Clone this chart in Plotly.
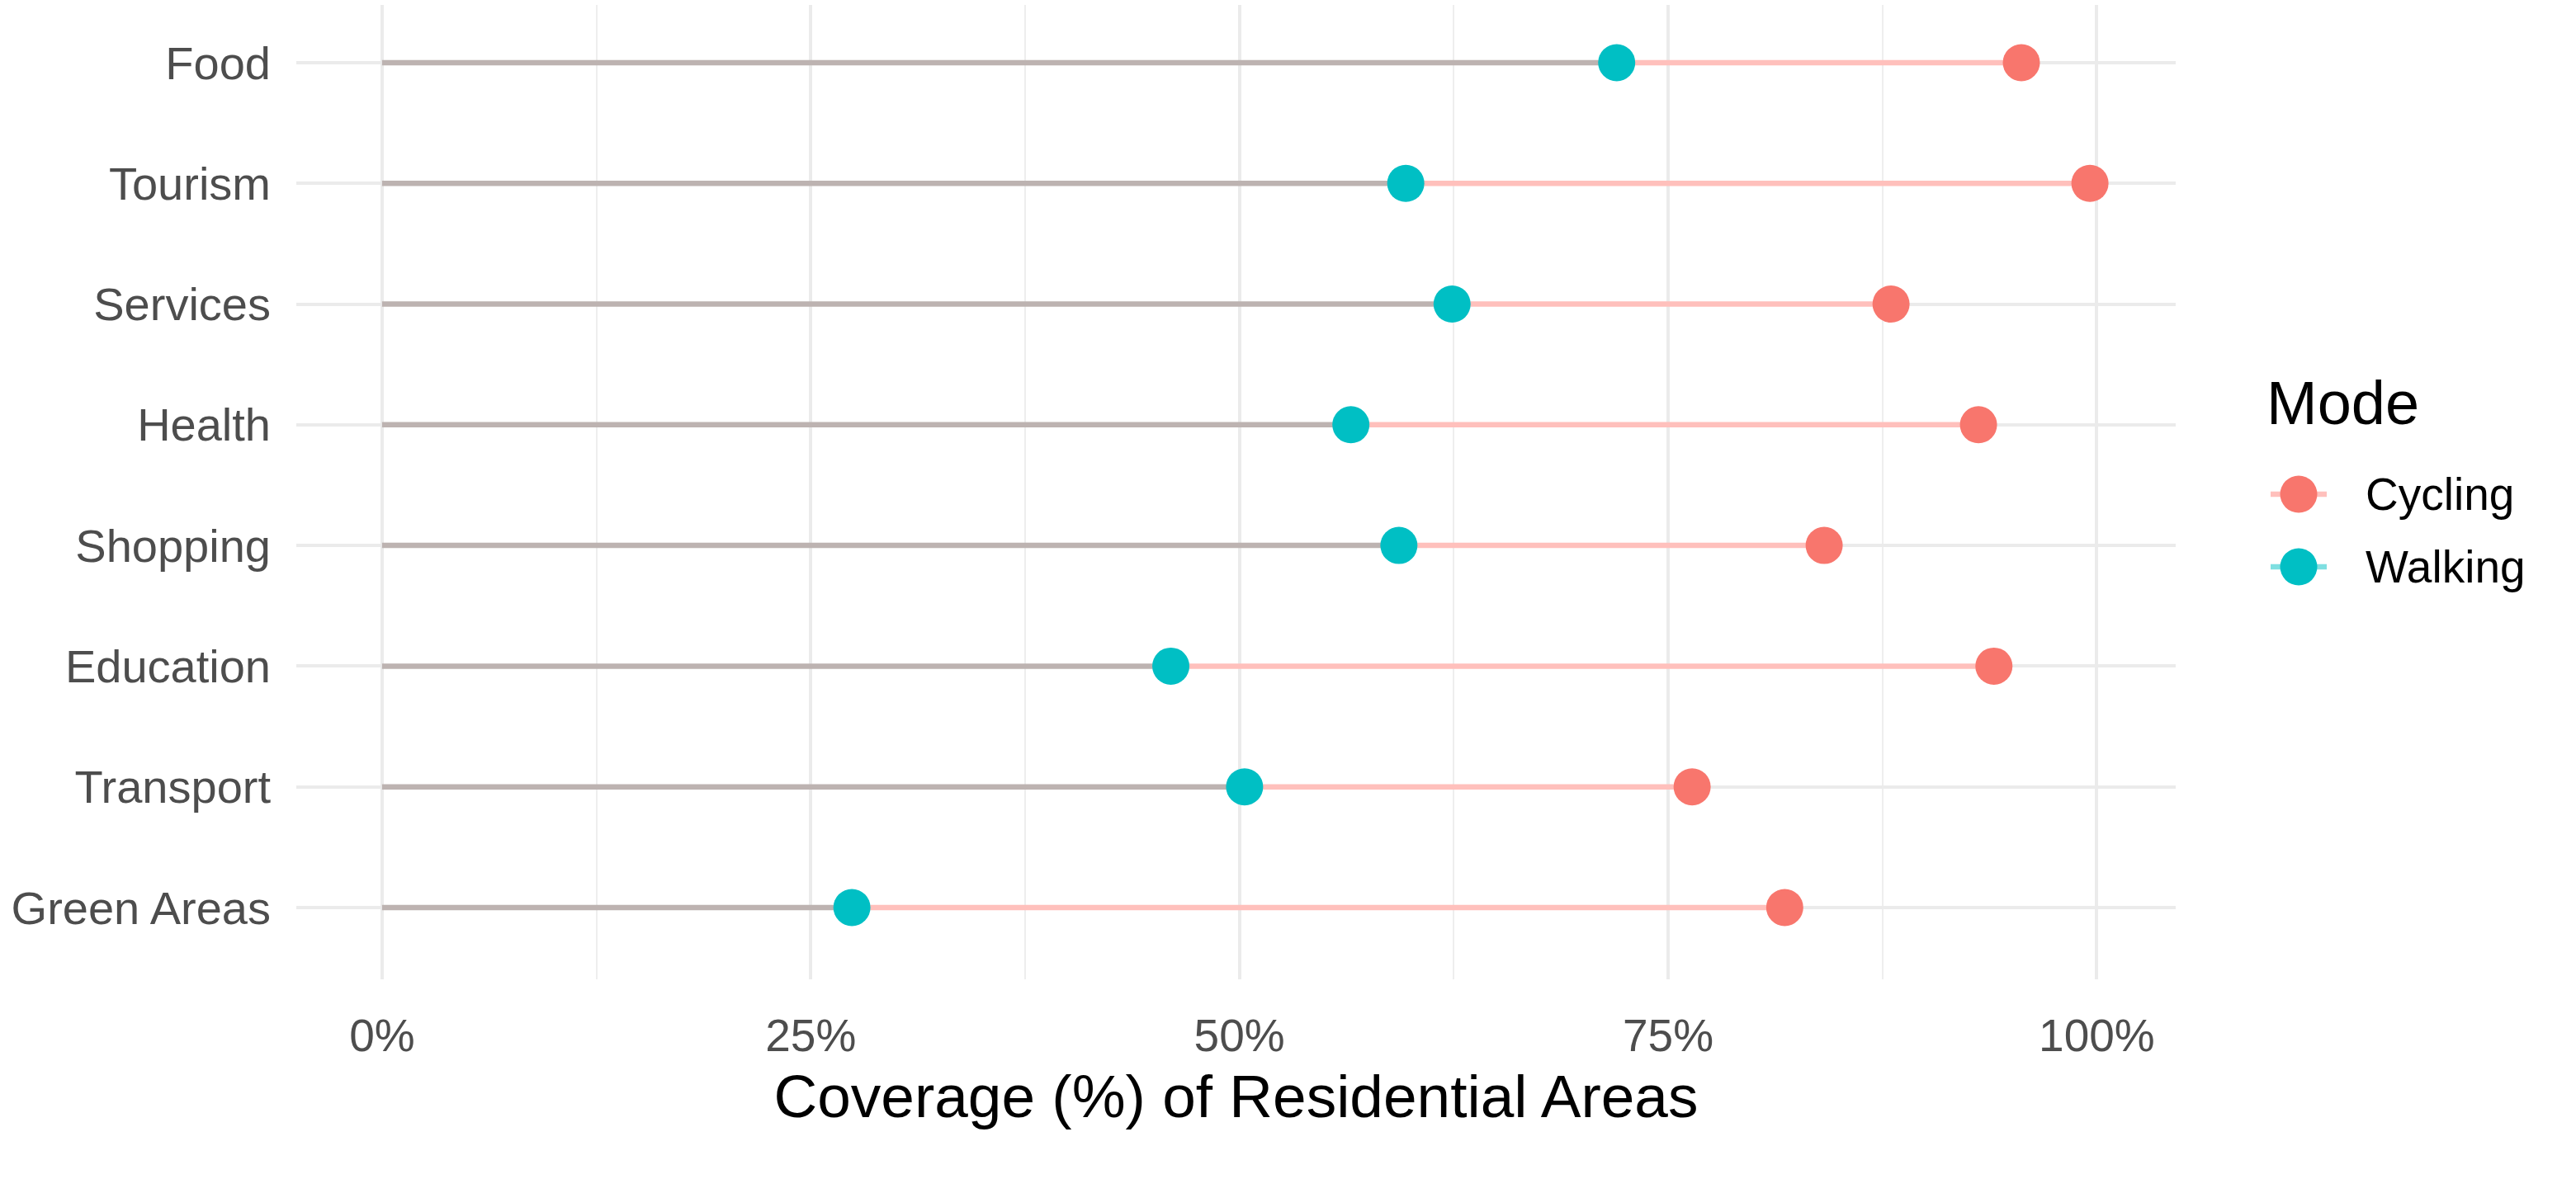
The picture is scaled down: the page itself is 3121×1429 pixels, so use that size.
import plotly.graph_objects as go

categories = ["Food", "Tourism", "Services", "Health", "Shopping", "Education", "Transport", "Green Areas"]
walking = [72.0, 59.7, 62.4, 56.5, 59.3, 46.0, 50.3, 27.4]
cycling = [95.6, 99.6, 88.0, 93.1, 84.1, 94.0, 76.4, 81.8]
tick_vals = [0, 25, 50, 75, 100]
tick_text = ["0%", "25%", "50%", "75%", "100%"]
modes = ["Cycling", "Walking"]

C_CYC = "#F8766D"
C_WALK = "#00BFC4"
mode_colors = [C_CYC, C_WALK]
mode_line_colors = ["#FFC0BC", "#7FDFE1"]
FONT = "Liberation Sans, Arial, sans-serif"

W, H = 3121, 1429
ML, MT, MB = 359, 6, 242
PW = W - ML
PH = H - MT - MB


def fx(px):
    return (px - ML) / PW


def fy(py):
    return (H - MB - py) / PH


fig = go.Figure()

# grey segments from 0 to walking
gx, gy = [], []
for c, w in zip(categories, walking):
    gx += [0, w, None]
    gy += [c, c, None]
fig.add_trace(go.Scatter(x=gx, y=gy, mode="lines", line=dict(color="#BDB3B1", width=6.5),
                         showlegend=False, hoverinfo="skip"))

# pink segments from walking to cycling
px_, py_ = [], []
for c, w, cy in zip(categories, walking, cycling):
    px_ += [w, cy, None]
    py_ += [c, c, None]
fig.add_trace(go.Scatter(x=px_, y=py_, mode="lines", line=dict(color="#FFC0BC", width=6.5),
                         showlegend=False, hoverinfo="skip"))

fig.add_trace(go.Scatter(x=cycling, y=categories, mode="markers", name="Cycling",
                         marker=dict(color=C_CYC, size=45, line=dict(width=0)),
                         showlegend=False))
fig.add_trace(go.Scatter(x=walking, y=categories, mode="markers", name="Walking",
                         marker=dict(color=C_WALK, size=45, line=dict(width=0)),
                         showlegend=False))

# custom legend keys drawn on a helper axis pair
for m, mc, lc in zip(modes, mode_colors, mode_line_colors):
    fig.add_trace(go.Scatter(x=[-1, 1], y=[m, m], mode="lines", xaxis="x2", yaxis="y2",
                             line=dict(color=lc, width=6.5), showlegend=False, hoverinfo="skip"))
    fig.add_trace(go.Scatter(x=[0], y=[m], mode="markers", xaxis="x2", yaxis="y2",
                             marker=dict(color=mc, size=45, line=dict(width=0)),
                             showlegend=False, hoverinfo="skip"))

fig.add_annotation(text="Mode", xref="paper", yref="paper", x=fx(2744), y=fy(489),
                   xanchor="left", yanchor="middle", showarrow=False,
                   font=dict(size=74, color="black", family=FONT))

fig.update_layout(
    width=W, height=H,
    margin=dict(l=ML, r=0, t=MT, b=MB),
    plot_bgcolor="white", paper_bgcolor="white",
    font=dict(family=FONT, color="black"),
    showlegend=False,
    xaxis=dict(
        domain=[0, fx(2636)],
        range=[-5.0, 104.6],
        tickvals=tick_vals, ticktext=tick_text,
        showgrid=True, gridcolor="#EBEBEB", gridwidth=3.5,
        minor=dict(dtick=12.5, tick0=0, showgrid=True, gridcolor="#EEEEEE", gridwidth=2),
        zeroline=False, showline=False, ticks="",
        tickfont=dict(size=55, color="#4D4D4D", family=FONT),
        ticklabelstandoff=31,
        title=dict(text="Coverage (%) of Residential Areas",
                   font=dict(size=73, color="black", family=FONT), standoff=17),
    ),
    yaxis=dict(
        type="category", categoryorder="array", categoryarray=categories,
        range=[7.595, -0.478],
        showgrid=True, gridcolor="#EBEBEB", gridwidth=3.5,
        zeroline=False, showline=False, ticks="",
        tickfont=dict(size=56, color="#4D4D4D", family=FONT),
        ticklabelstandoff=30,
    ),
    xaxis2=dict(
        domain=[fx(2751), fx(2819)], anchor="y2", range=[-1, 1],
        visible=False, showgrid=False, zeroline=False, fixedrange=True,
    ),
    yaxis2=dict(
        domain=[fy(731), fy(555)], anchor="x2", side="right",
        type="category", categoryorder="array", categoryarray=modes,
        range=[1.5, -0.5],
        showgrid=False, zeroline=False, showline=False, ticks="",
        tickfont=dict(size=55, color="black", family=FONT),
        ticklabelstandoff=46, fixedrange=True,
    ),
)

fig.write_html("out.html", config={"displayModeBar": False},
               post_script="document.body.style.margin='0px';")
